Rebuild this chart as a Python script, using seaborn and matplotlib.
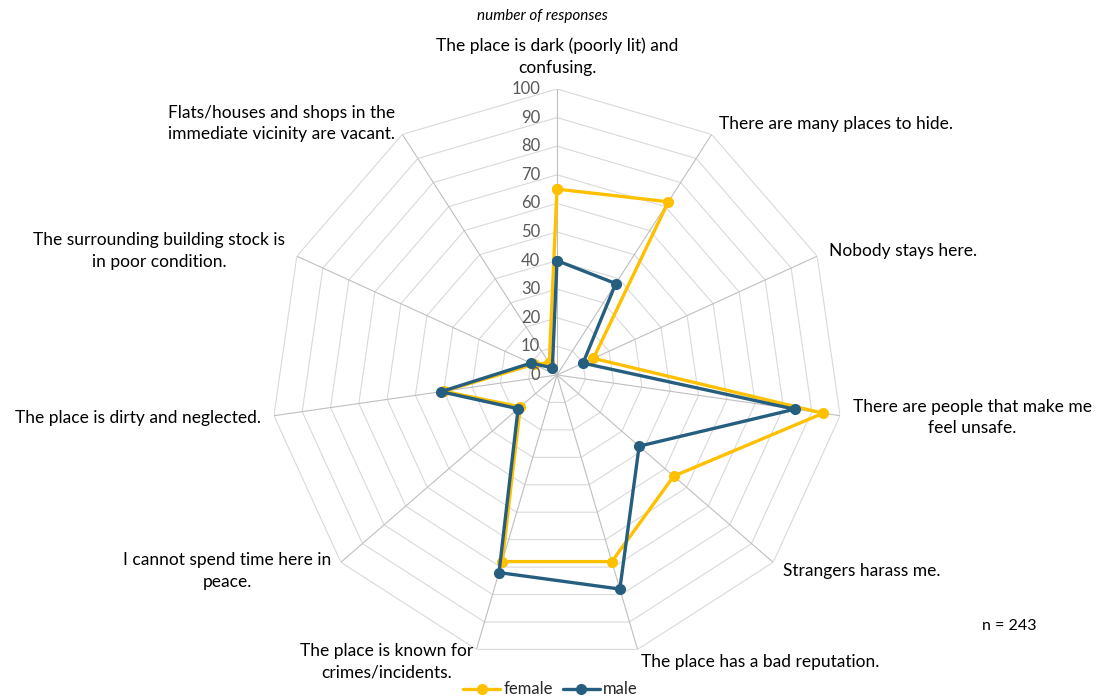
import numpy as np
import pandas as pd
import matplotlib
matplotlib.use("Agg")
import matplotlib.pyplot as plt
import seaborn as sns

categories = [
    "The place is dark (poorly lit) and\nconfusing.",
    "There are many places to hide.",
    "Nobody stays here.",
    "There are people that make me\nfeel unsafe.",
    "Strangers harass me.",
    "The place has a bad reputation.",
    "The place is known for\ncrimes/incidents.",
    "I cannot spend time here in\npeace.",
    "The place is dirty and neglected.",
    "The surrounding building stock is\nin poor condition.",
    "Flats/houses and shops in the\nimmediate vicinity are vacant.",
]
female = [65, 72, 14, 94, 54, 68, 68, 17, 40, 9, 5]
male = [40, 38, 10, 84, 38, 78, 72, 18, 41, 10, 3]
series_names = ["female", "male"]
tick_values = [0, 10, 20, 30, 40, 50, 60, 70, 80, 90, 100]

colors = {"female": "#FFC000", "male": "#255E7E"}

sns.set_theme(style="white")
plt.rcParams["font.family"] = ["Lato", "DejaVu Sans"]

n = len(categories)
theta = np.linspace(0, 2 * np.pi, n, endpoint=False)

rows = []
for name, vals in zip(series_names, [female, male]):
    for k in list(range(n)) + [0]:
        t = theta[k] if k != 0 or len([r for r in rows if r["gender"] == name]) == 0 else 2 * np.pi
        rows.append({"gender": name, "theta": t, "value": vals[k]})
df = pd.DataFrame(rows)

fig = plt.figure(figsize=(11.01, 7.0), dpi=100)
ax = fig.add_axes([271 / 1101, 39 / 700, 572 / 1101, 572 / 700], projection="polar")
ax.set_theta_zero_location("N")
ax.set_theta_direction(-1)
ax.set_ylim(0, 100)
ax.grid(False)
ax.spines["polar"].set_visible(False)
ax.set_xticks([])
ax.set_yticks([])
ax.patch.set_alpha(0)

# polygon gridlines
ring_theta = np.append(theta, 2 * np.pi)
for v in tick_values[1:]:
    ax.plot(ring_theta, [v] * len(ring_theta), color="#d9d9d9", lw=0.8, zorder=1)
for t in theta:
    ax.plot([t, t], [0, 100], color="#bfbfbf", lw=0.8, zorder=1)

sns.lineplot(data=df, x="theta", y="value", hue="gender", hue_order=series_names,
             palette=colors, sort=False, estimator=None, marker="o",
             markersize=8, markeredgewidth=0, linewidth=2.4, ax=ax, zorder=3,
             legend=False)
ax.set_xlabel("")
ax.set_ylabel("")
ax.set_ylim(0, 100)

# tick labels
for v in tick_values:
    ax.annotate(str(v), xy=(0, v), xytext=(-12, 0), textcoords="offset points",
                ha="right", va="center", fontsize=12, color="#595959")

# category labels
for t, lab in zip(theta, categories):
    deg = np.degrees(t)
    if np.isclose(deg, 0):
        ha, va = "center", "bottom"
    elif deg < 180:
        ha, va = "left", "center"
    else:
        ha, va = "right", "center"
    ax.text(t, 104.5, lab, ha=ha, va=va, multialignment="center",
            fontsize=12.5, color="#000000", linespacing=1.45)

fig.text(0.493, 0.977, "number of responses", ha="center", va="center",
         fontsize=11, style="italic", color="#000000")
fig.text(0.482, 1.012, "REASONS FOR FEELINGS OF INSECURITY IN UNSAFE SPOTS",
         ha="center", va="center", fontsize=20, fontweight="bold", color="#e3e3e3")
fig.text(0.917, 0.106, "n = 243", ha="center", va="center", fontsize=11.5,
         color="#000000")

from matplotlib.lines import Line2D
handles = [Line2D([], [], color=colors[s], lw=2.4, marker="o", markersize=8,
                  markeredgewidth=0) for s in series_names]
fig.legend(handles, series_names, loc="center", bbox_to_anchor=(0.50, 0.015),
           ncol=2, frameon=False, fontsize=12, handlelength=2.2,
           handletextpad=0.2, columnspacing=0.6)

fig.savefig("out.png", dpi=100)
